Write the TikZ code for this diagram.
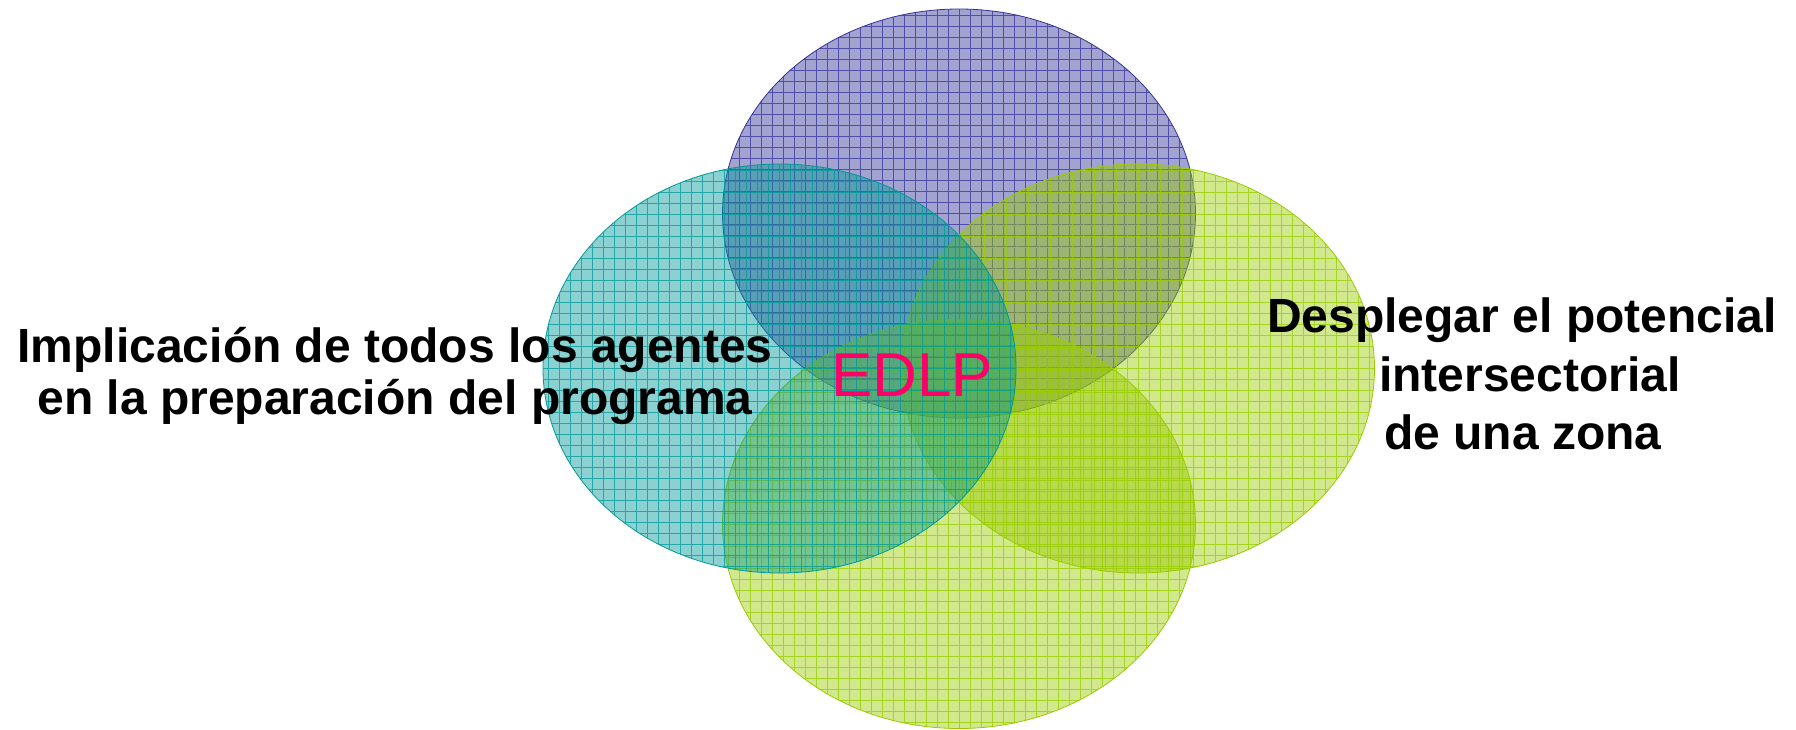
\documentclass[tikz,border=0pt]{standalone}
\usepackage{fontspec}
\setmainfont{Liberation Sans}
\usetikzlibrary{shapes.geometric}
\definecolor{vpurple}{RGB}{51,51,153}
\definecolor{vteal}{RGB}{0,153,153}
\definecolor{vlime}{RGB}{153,204,0}
\definecolor{vpink}{RGB}{255,0,102}
\tikzset{
  vset/.style={ellipse, draw=#1, line width=0.8pt, fill=#1, fill opacity=0.45,
    minimum width=473pt, minimum height=409pt, inner sep=0pt, outer sep=0pt,
    path picture={\draw[#1, draw opacity=0.75, line width=0.9pt, step=11pt]
      (path picture bounding box.south west) grid (path picture bounding box.north east);}},
  lbl/.style={font=\fontsize{48}{52}\selectfont\bfseries, anchor=base, inner sep=0pt},
  core/.style={font=\fontsize{62}{62}\selectfont, text=vpink, anchor=base, inner sep=0pt},
}
\begin{document}
\begin{tikzpicture}[x=1pt,y=-1pt]
\fill[white] (0,0) rectangle (1796,729);
\useasboundingbox (0,0) rectangle (1796,729);
\node[vset=vpurple] (top) at (959,213.5) {};
\node[vset=vlime] (right) at (1138,368.5) {};
\node[vset=vlime] (bottom) at (959,524) {};
\node[vset=vteal] (left) at (779.5,368.5) {};
\node[lbl] (l1) at (395,362) {Implicación de todos los agentes};
\node[lbl] (l2) at (395,414) {en la preparación del programa};
\node[lbl] (r1) at (1522,332) {Desplegar el potencial};
\node[lbl] (r2) at (1530,391) {intersectorial};
\node[lbl] (r3) at (1523,449) {de una zona};
\node[core] (edlp) at (912,396) {EDLP};
\end{tikzpicture}
\end{document}
